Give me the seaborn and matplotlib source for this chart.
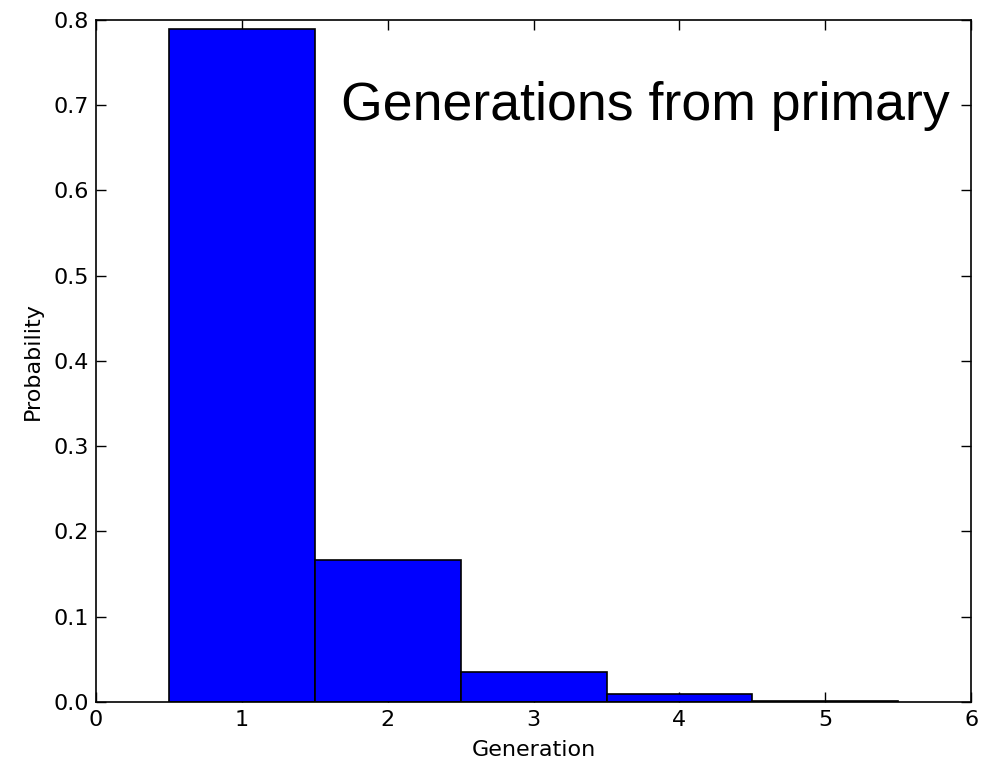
import matplotlib
matplotlib.use("Agg")
import matplotlib.pyplot as plt
import seaborn as sns
import pandas as pd

generations = [1, 2, 3, 4, 5]
probabilities = [0.789, 0.166, 0.035, 0.0088, 0.0012]

sns.set_style("ticks")
plt.rcParams['font.family'] = ['DejaVu Sans']
plt.rcParams['text.color'] = 'black'
plt.rcParams['axes.labelcolor'] = 'black'

df = pd.DataFrame({"Generation": generations, "Probability": probabilities})

fig = plt.figure(figsize=(9.9, 7.66), dpi=100)
ax = fig.add_axes([0.097, 0.0836, 0.884, 0.8904])
sns.barplot(data=df, x="Generation", y="Probability", native_scale=True,
            width=1.0, color="#0000ff", saturation=1, edgecolor="black",
            linewidth=1.2, ax=ax, errorbar=None)
ax.set_xlim(0, 6)
ax.set_ylim(0, 0.8)
ax.set_xticks([0, 1, 2, 3, 4, 5, 6])
ax.set_yticks([0.0, 0.1, 0.2, 0.3, 0.4, 0.5, 0.6, 0.7, 0.8])
ax.set_xticklabels(["0", "1", "2", "3", "4", "5", "6"])
ax.set_yticklabels(["0.0", "0.1", "0.2", "0.3", "0.4", "0.5", "0.6", "0.7", "0.8"])
ax.tick_params(direction="in", top=True, right=True, length=7, width=1,
               labelsize=16, colors="black")
ax.tick_params(axis="x", pad=6)
ax.tick_params(axis="y", pad=5)
for s in ax.spines.values():
    s.set_visible(True)
    s.set_color("black")
    s.set_linewidth(1.2)
ax.set_xlabel("Generation", fontsize=16, labelpad=7)
ax.set_ylabel("Probability", fontsize=16, labelpad=8)
ax.text(0.976, 0.874, "Generations from primary", transform=ax.transAxes,
        ha="right", va="center", fontsize=38.6, family=["Liberation Sans"],
        color="black")
fig.savefig("out.png", dpi=100)
